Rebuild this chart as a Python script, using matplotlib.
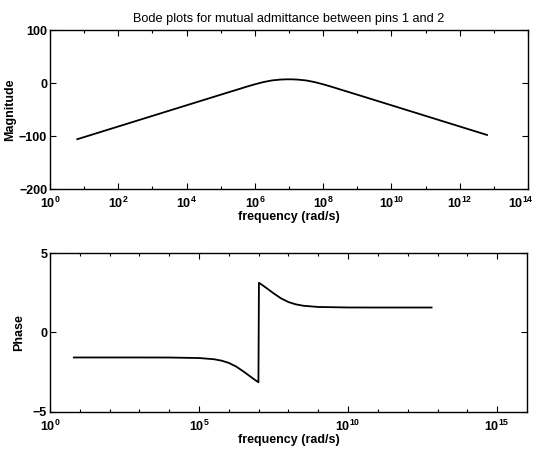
"""Bode plots for mutual admittance between pins 1 and 2 (magnitude + phase)."""

import matplotlib
matplotlib.use("Agg")
import matplotlib.pyplot as plt
import matplotlib.transforms as mtransforms
from matplotlib.ticker import NullFormatter, FixedLocator

plt.rcParams["font.family"] = ["Liberation Sans", "DejaVu Sans"]
plt.rcParams["mathtext.default"] = "regular"

# frequency points (rad/s)
freq = [6.3, 1e1, 1e2, 1e3, 1e4, 1e5, 3.16e5, 5.6e5, 1e6, 1.78e6, 3.16e6,
        5.6e6, 7.9e6, 9.8e6, 1.02e7, 1.26e7, 1.78e7, 3.16e7, 5.6e7, 1e8,
        1.78e8, 3.16e8, 1e9, 1e10, 1e11, 1e12, 6.3e12]

# magnitude (dB)
magnitude = [-106, -102, -82, -62, -42, -22, -12.1, -7.1, -2.4, 1.8, 4.9,
             6.5, 6.95, 7.0, 7.0, 6.95, 6.5, 4.9, 1.8, -2.4,
             -7.1, -12.1, -22, -42, -62, -82, -98]

# phase (rad), wraps from -pi to +pi at the resonance
phase = [-1.571, -1.571, -1.571, -1.571, -1.574, -1.606, -1.682, -1.768,
         -1.914, -2.148, -2.465, -2.810, -3.011, -3.129, 3.129, 3.011,
         2.810, 2.465, 2.148, 1.914, 1.768, 1.682, 1.606, 1.574, 1.571,
         1.571, 1.571]

TXT = dict(fontsize=9, fontweight="bold")

fig = plt.figure(figsize=(5.39, 4.51), dpi=100)
ax1 = fig.add_axes([0.0928, 0.5809, 0.8868, 0.3525])
ax2 = fig.add_axes([0.0928, 0.0865, 0.8849, 0.3525])

# --- magnitude ---
ax1.semilogx(freq, magnitude, color="black", linewidth=1.3)
ax1.set_xlim(1e0, 1e14)
ax1.set_ylim(-200, 100)
ax1.set_yticks([-200, -100, 0, 100])
ax1.xaxis.set_major_locator(FixedLocator([10.0 ** k for k in range(0, 15, 2)]))
ax1.xaxis.set_minor_locator(FixedLocator([10.0 ** k for k in range(1, 14, 2)]))
ax1.xaxis.set_minor_formatter(NullFormatter())
ax1.set_ylabel("Magnitude", labelpad=2, **TXT)
ax1.set_xlabel("frequency (rad/s)", labelpad=0, **TXT)
ax1.set_title("Bode plots for mutual admittance between pins 1 and 2",
              fontsize=9.2, pad=6)

# --- phase ---
ax2.semilogx(freq, phase, color="black", linewidth=1.3)
ax2.set_xlim(1e0, 1e16)
ax2.set_ylim(-5, 5)
ax2.set_yticks([-5, 0, 5])
ax2.xaxis.set_major_locator(FixedLocator([10.0 ** k for k in range(0, 16, 5)]))
ax2.xaxis.set_minor_locator(FixedLocator([10.0 ** k for k in range(1, 16)]))
ax2.xaxis.set_minor_formatter(NullFormatter())
ax2.set_ylabel("Phase", labelpad=6, **TXT)
ax2.set_xlabel("frequency (rad/s)", labelpad=0, **TXT)

for ax in (ax1, ax2):
    ax.tick_params(which="both", direction="in", top=True, right=True,
                   labelsize=9)
    ax.tick_params(axis="x", pad=5)
    ax.tick_params(axis="y", pad=2)
    ax.tick_params(which="major", length=4, width=0.8)
    ax.tick_params(which="minor", length=2.5, width=0.8)
    for lab in ax.get_xticklabels() + ax.get_yticklabels():
        lab.set_fontweight("bold")
    for sp in ax.spines.values():
        sp.set_linewidth(1.0)

# nudge the 10^14 label left so it stays inside the figure
last = ax1.get_xticklabels()[-1]
last.set_transform(last.get_transform() +
                   mtransforms.ScaledTranslation(-5 / 72, 0, fig.dpi_scale_trans))

fig.savefig("out.png", dpi=100, facecolor="white")
